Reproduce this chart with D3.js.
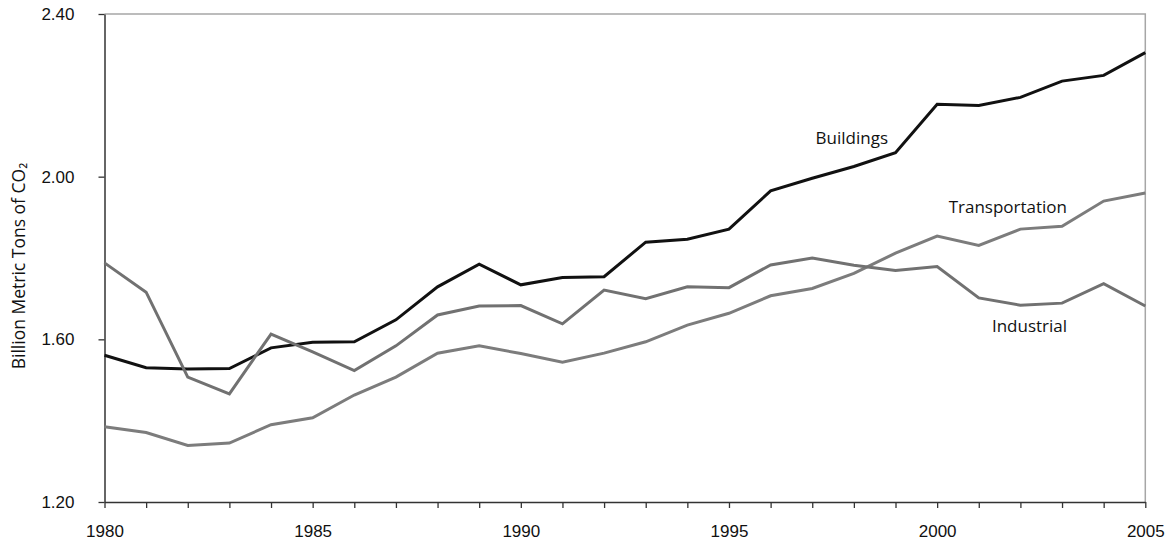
<!DOCTYPE html>
<html>
<head>
<meta charset="utf-8">
<script src="https://cdn.jsdelivr.net/npm/d3@7"></script>
<style>
  body { margin: 0; background: #fff; }
  svg { font-family: "Open Sans", sans-serif; }
</style>
</head>
<body>
<div id="chart"></div>
<script>
// data (billion metric tons of CO2)
var years = d3.range(1980, 2006);
var buildings = [1.561, 1.530, 1.527, 1.528, 1.579, 1.593, 1.594, 1.648, 1.729, 1.785,
                 1.734, 1.752, 1.754, 1.839, 1.846, 1.871, 1.965, 1.996, 2.025, 2.059,
                 2.178, 2.175, 2.195, 2.235, 2.249, 2.305];
var transportation = [1.385, 1.371, 1.339, 1.345, 1.390, 1.407, 1.463, 1.507, 1.566, 1.584,
                      1.565, 1.544, 1.566, 1.594, 1.635, 1.664, 1.707, 1.725, 1.762, 1.812,
                      1.854, 1.831, 1.871, 1.878, 1.940, 1.960];
var industrial = [1.788, 1.716, 1.507, 1.466, 1.613, 1.569, 1.523, 1.584, 1.660, 1.682,
                  1.683, 1.638, 1.721, 1.700, 1.729, 1.727, 1.783, 1.800, 1.782, 1.769,
                  1.779, 1.702, 1.684, 1.689, 1.737, 1.682];
var yTicks = [1.20, 1.60, 2.00, 2.40];
var xLabels = [1980, 1985, 1990, 1995, 2000, 2005];

var series = [
  {name: "Buildings", values: buildings, color: "#111111", label: [1998.82, 2.080]},
  {name: "Transportation", values: transportation, color: "#7c7c7c", label: [2003.12, 1.910]},
  {name: "Industrial", values: industrial, color: "#717171", label: [2003.12, 1.619]}
];

var WIDTH = 1166, HEIGHT = 544;
var margin = {top: 14, right: 20.7, bottom: 42, left: 104.5},
    width = WIDTH - margin.left - margin.right,
    height = HEIGHT - margin.top - margin.bottom;

var svg = d3.select("#chart").append("svg")
    .attr("width", WIDTH)
    .attr("height", HEIGHT);

var g = svg.append("g").attr("transform", `translate(${margin.left},${margin.top})`);

var x = d3.scaleLinear().domain([1980, 2005]).range([0, width]);
var y = d3.scaleLinear().domain([1.20, 2.40]).range([height, 0]);

// grey frame on top and right
g.append("path")
  .attr("d", `M0,0H${width}V${height}`)
  .attr("fill", "none")
  .attr("stroke", "#a6a6a6")
  .attr("stroke-width", 1.5);

// y axis
var yAxis = g.append("g")
  .call(d3.axisLeft(y).tickValues(yTicks).tickSize(6).tickSizeOuter(0).tickFormat(d3.format(".2f")));
yAxis.select(".domain").attr("stroke", "#333").attr("stroke-width", 1.5);
yAxis.selectAll(".tick line").attr("stroke", "#333").attr("stroke-width", 1.3);
yAxis.selectAll(".tick text")
  .attr("x", -30)
  .style("font-size", "17px")
  .attr("fill", "#111");

// x axis, a tick every year, labels every 5 years
var xAxis = g.append("g")
  .attr("transform", `translate(0,${height})`)
  .call(d3.axisBottom(x).tickValues(years).tickSize(6).tickSizeOuter(0)
    .tickFormat(d => xLabels.includes(d) ? d : ""));
xAxis.select(".domain").attr("stroke", "#333").attr("stroke-width", 1.5);
xAxis.selectAll(".tick line").attr("stroke", "#333").attr("stroke-width", 1.3);
xAxis.selectAll(".tick text")
  .attr("y", 23)
  .style("font-size", "17px")
  .attr("fill", "#111");

// y axis title
svg.append("text")
  .attr("transform", `translate(25,266) rotate(-90)`)
  .attr("text-anchor", "middle")
  .style("font-size", "17.5px")
  .attr("fill", "#111")
  .text("Billion Metric Tons of CO\u2082");

var line = d3.line()
  .x((d, i) => x(years[i]))
  .y(d => y(d));

g.selectAll("path.series")
  .data(series)
  .join("path")
    .attr("class", "series")
    .attr("fill", "none")
    .attr("stroke", d => d.color)
    .attr("stroke-width", 3)
    .attr("stroke-linejoin", "miter")
    .attr("d", d => line(d.values));

// in-chart series labels
g.selectAll("text.label")
  .data(series)
  .join("text")
    .attr("class", "label")
    .attr("x", d => x(d.label[0]))
    .attr("y", d => y(d.label[1]))
    .attr("text-anchor", "end")
    .style("font-size", "17px")
    .attr("fill", "#111")
    .text(d => d.name);
</script>
</body>
</html>
